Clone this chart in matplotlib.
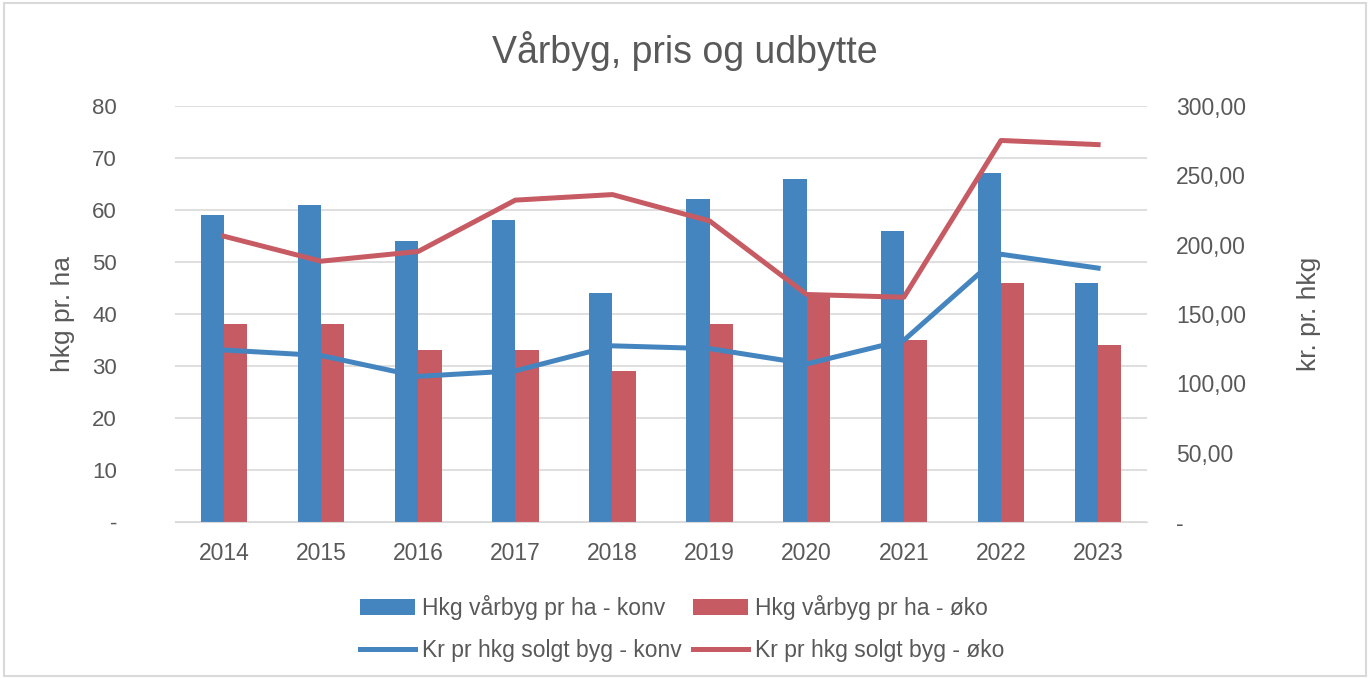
import numpy as np
import matplotlib.pyplot as plt
from matplotlib.ticker import FuncFormatter
from matplotlib.patches import Rectangle

plt.rcParams['font.family'] = ['Liberation Sans', 'DejaVu Sans']

# data
years = ['2014', '2015', '2016', '2017', '2018', '2019', '2020', '2021', '2022', '2023']
hkg_konv = [59, 61, 54, 58, 44, 62, 66, 56, 67, 46]
hkg_oko = [38, 38, 33, 33, 29, 38, 44, 35, 46, 34]
kr_konv = [124, 120, 105, 109, 127, 125, 114, 131, 193, 183]
kr_oko = [206, 188, 195, 232, 236, 217, 164, 162, 275, 272]

blaa = '#4585BF'
roed = '#C75B64'
tekst = '#595959'

fig = plt.figure(figsize=(13.7, 6.78), dpi=100)
ax = fig.add_axes([0.128, 0.230, 0.709, 0.614])
ax2 = ax.twinx()

x = np.arange(len(years))
b = 0.24
s1 = ax.bar(x - b/2, hkg_konv, b, color=blaa, label='Hkg vårbyg pr ha - konv')
s2 = ax.bar(x + b/2, hkg_oko, b, color=roed, label='Hkg vårbyg pr ha - øko')
l1, = ax2.plot(x, kr_konv, color=blaa, lw=3.6, label='Kr pr hkg solgt byg - konv')
l2, = ax2.plot(x, kr_oko, color=roed, lw=3.6, label='Kr pr hkg solgt byg - øko')

ax.set_xlim(-0.5, len(years) - 0.5)
ax.set_ylim(0, 80)
ax2.set_ylim(0, 300)
ax.set_yticks(range(0, 81, 10))
ax2.set_yticks(range(0, 301, 50))
ax.yaxis.set_major_formatter(FuncFormatter(lambda v, p: '-' if v == 0 else '%d' % v))
ax2.yaxis.set_major_formatter(FuncFormatter(lambda v, p: '-' if v == 0 else ('%.2f' % v).replace('.', ',')))
ax.set_xticks(x)
ax.set_xticklabels(years)

ax.grid(axis='y', color='#D9D9D9', lw=1.2)
ax.set_axisbelow(True)
for a in (ax, ax2):
    for sp in a.spines.values():
        sp.set_visible(False)
    a.tick_params(length=0, colors=tekst)
ax.spines['bottom'].set_visible(True)
ax.spines['bottom'].set_color('#D9D9D9')
ax.tick_params(axis='y', pad=42, labelsize=16)
ax.tick_params(axis='x', pad=14, labelsize=16.5)
ax2.tick_params(axis='y', pad=21, labelsize=16.5)

ax.set_ylabel('hkg pr. ha', fontsize=19, color=tekst, labelpad=12)
ax2.set_ylabel('kr. pr. hkg', fontsize=19, color=tekst, labelpad=37)

fig.text(0.5, 0.925, 'Vårbyg, pris og udbytte', ha='center', va='center', fontsize=27, color=tekst)

fig.legend([s1, l1, s2, l2], [s1.get_label(), l1.get_label(), s2.get_label(), l2.get_label()],
           ncol=2, loc='center', bbox_to_anchor=(0.498, 0.073), frameon=False,
           fontsize=16.5, labelcolor=tekst, handlelength=2.4, columnspacing=0.5,
           handletextpad=0.3, labelspacing=0.85)

# ramme rundt om figuren
fig.patches.append(Rectangle((0.003, 0.003), 0.994, 0.992, transform=fig.transFigure,
                             fill=False, edgecolor='#D9D9D9', lw=1.5))

fig.savefig('out.png', dpi=100)
